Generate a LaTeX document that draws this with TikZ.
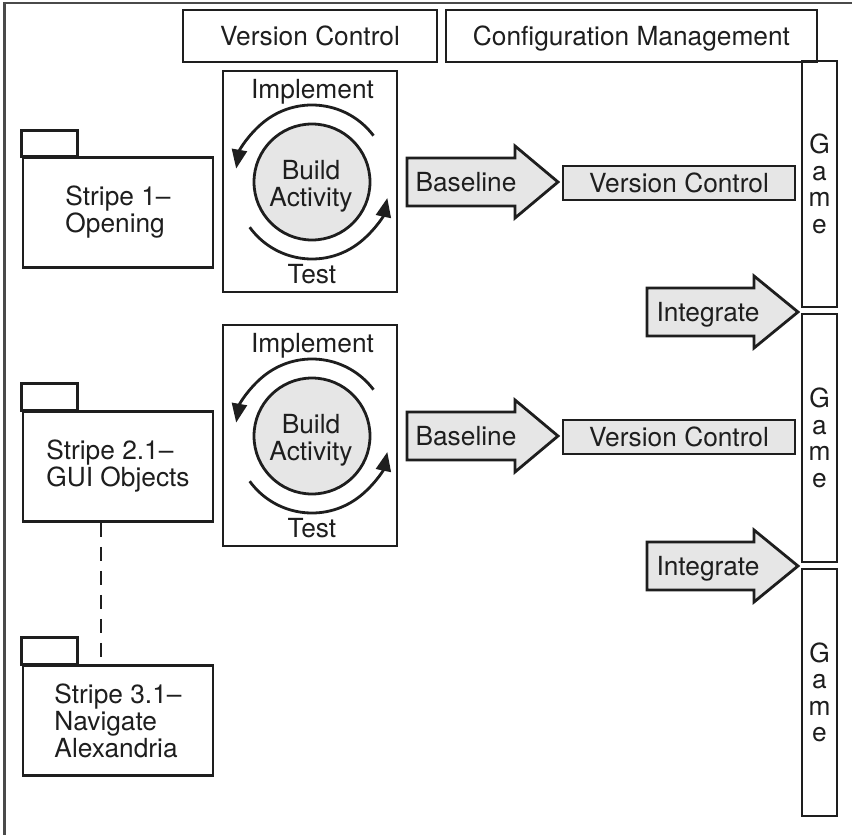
\documentclass[tikz,border=0pt]{standalone}
\usepackage{fontspec}
\setmainfont{TeX Gyre Heros}
\usetikzlibrary{arrows.meta,calc}
\definecolor{ink}{HTML}{1E1E1E}
\definecolor{lgray}{HTML}{E6E6E6}
\definecolor{framec}{HTML}{4A4A4A}
\begin{document}
\begin{tikzpicture}[x=1pt,y=-1pt,
  every node/.style={font=\fontsize{26.3}{27}\selectfont, text=ink, inner sep=0pt},
  box/.style={draw=ink, line width=2.8pt, rectangle, inner sep=0pt},
  capc/.style={text height=18.9pt, text depth=0pt},
  pkg/.style={box, minimum width=190pt, minimum height=110pt, align=left},
  actbox/.style={box, minimum width=174pt, minimum height=221pt},
  hub/.style={circle, draw=ink, fill=lgray, line width=2.8pt, minimum size=116pt},
  cyc/.style={draw=ink, line width=2.8pt, -{Triangle[length=19pt,width=15pt]}},
  fat/.style={draw=ink, fill=lgray, line width=2.8pt, line join=miter},
  gamebar/.style={box, minimum width=35pt, align=center, font=\fontsize{26.3}{26.5}\selectfont},
  vcbox/.style={box, fill=lgray, minimum width=232pt, minimum height=34pt, capc},
]
\useasboundingbox (0,0) rectangle (852,835);
% outer frame (cropped)
\coordinate (fTL) at (4.5,3);
\coordinate (fBL) at (4.5,836);
\coordinate (fTR) at (853,3);
\draw[framec, line width=2.2pt] (fBL) -- (fTL) -- (fTR);

% header boxes
\node[box, minimum width=254pt, minimum height=52pt, capc] (hvc) at (310,36) {Version Control};
\node[box, minimum width=371pt, minimum height=52pt, capc] (hcm) at (631.5,36) {Configuration Management};

% packages (stripes)
\node[pkg] (s1) at (118,212.5) {Stripe 1--\\Opening};
\draw[ink, line width=2.8pt] (s1.north west) rectangle ++(56,-26);
\node[pkg] (s2) at (118,466.5) {Stripe 2.1--\\GUI Objects};
\draw[ink, line width=2.8pt] (s2.north west) rectangle ++(56,-27);
\node[pkg] (s3) at (118,720.5) {Stripe 3.1--\\Navigate\\Alexandria};
\draw[ink, line width=2.8pt] (s3.north west) rectangle ++(56,-27);
\coordinate (dashx) at (101,0);
\draw[ink, line width=2.8pt, dash pattern=on 14pt off 10pt] (s2.south -| dashx) -- (s3.north -| dashx);

% build activity boxes
\foreach \r/\dy in {1/0,2/254}{
  \node[actbox] (a\r) at (310,181.5+\dy) {};
  \node[hub] (c\r) at (312,182+\dy) {};
  \node[align=center] (c\r t) at (311,186.5+\dy) {Build\\Activity};
  \node[anchor=base] (imp\r) at (312.5,98+\dy) {Implement};
  \node[anchor=base] (tst\r) at (312,283+\dy) {Test};
  \draw[cyc] ([shift={(-37:77)}]c\r.center) arc[start angle=-37, end angle=-170, radius=77];
  \draw[cyc] ([shift={(-216:77)}]c\r.center) arc[start angle=-216, end angle=-348, radius=77];
  % baseline arrow
  \draw[fat] (407,158+\dy) -- (515,158+\dy) -- (515,146+\dy) -- (558,182+\dy)
     -- (515,218+\dy) -- (515,206+\dy) -- (407,206+\dy) -- cycle;
  \node[capc] (bl\r) at (466,182+\dy) {Baseline};
  \node[vcbox] (vc\r) at (679,183+\dy) {Version Control};
  % integrate arrow
  \draw[fat] (647,288+\dy) -- (754,288+\dy) -- (754,276+\dy) -- (798,312+\dy)
     -- (754,348+\dy) -- (754,336+\dy) -- (647,336+\dy) -- cycle;
  \node[capc] (in\r) at (708,312+\dy) {Integrate};
}

% game bars
\node[gamebar, minimum height=246pt] (g1) at (819.5,184) {G\\a\\m\\e};
\node[gamebar, minimum height=248pt] (g2) at (819.5,438) {G\\a\\m\\e};
\node[gamebar, minimum height=247pt] (g3) at (819.5,692.5) {G\\a\\m\\e};
\end{tikzpicture}
\end{document}
